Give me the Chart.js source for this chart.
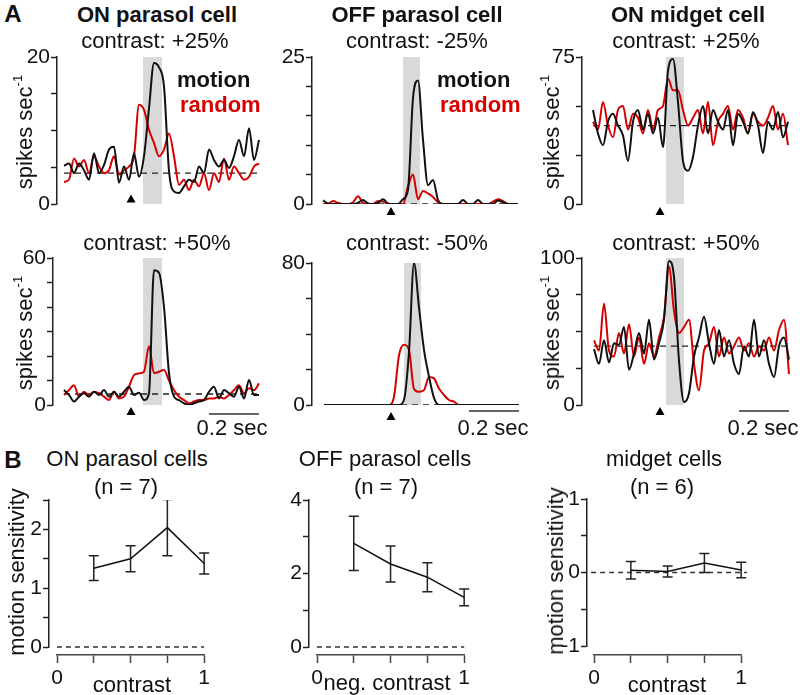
<!DOCTYPE html>
<html><head><meta charset="utf-8">
<script src="https://cdn.jsdelivr.net/npm/chart.js@4.4.0/dist/chart.umd.min.js"></script>
<style>
html,body{margin:0;padding:0;background:#fff;}
body{width:800px;height:695px;position:relative;overflow:hidden;font-family:"Liberation Sans",Arial,sans-serif;color:#111;}
canvas{position:absolute;}
.t{position:absolute;transform:translate(-50%,-50%);white-space:nowrap;line-height:1;font-size:22px;}
.b{font-weight:bold;}
.lg{position:absolute;transform:translate(0,-50%);white-space:nowrap;line-height:1;font-size:22px;font-weight:bold;}
.r{transform:translate(-50%,-50%) rotate(-90deg);}
sup{font-size:13px;vertical-align:0;position:relative;top:-0.8em;}
</style></head><body>
<script>
// ---------- DATA ----------
const time = [0,0.02,0.04,0.06,0.08,0.1,0.12,0.14,0.16,0.18,0.2,0.22,0.24,0.26,0.28,0.3,0.32,0.34,0.36,0.38,0.4,0.42,0.44,0.46,0.48,0.5,0.52,0.54,0.56,0.58,0.6,0.62,0.64,0.66,0.68,0.7,0.72,0.74,0.76,0.78];

const onParasol25Motion = [5.2,5.5,4.2,5.5,4.6,3.3,6.9,4.2,5.3,7.4,7.8,2.9,5.1,3.3,6.9,3.7,6.5,13,19.2,18.6,16,4.5,1.7,1.5,2.4,3.3,3.0,5.1,4.2,7.4,6.0,5.1,6.0,4.9,6.5,8.7,6.5,10.3,6.0,8.7];
const onParasol25Random = [3.0,3.3,6.2,5.1,6.0,4.2,6.5,5.1,4.2,4.6,6.5,4.0,4.6,5.1,6.5,13.5,12.8,10.1,8.3,6.5,7.4,9.6,6.5,2.6,3.3,1.9,3.3,2.4,4.2,1.9,4.2,3.0,6.2,3.3,5.1,4.2,3.3,3.7,5.1,5.5];
const offParasol25Motion = [0.6,0.1,0,0,0,0,0,0.2,0.7,0.1,0,0.2,0.8,0.1,0,0,0.8,2.4,18,21,10.9,3.2,4.1,0.7,0,0,0,0,0.7,0,0,0.7,0,0,0,0.6,0.3,0,0,0];
const offParasol25Random = [0,0,0.5,0.2,0,0,0.3,1.3,0.2,0,0,0.5,0.4,0,0,0,0,3,5,0.8,2.2,1.8,1.2,0.3,0,0,0,0,0,0,0,0,0,0,0.4,0.8,0.5,0,0,0];
const onMidget25Motion = [48,36,30,42,46,40,35,22,42,48,38,46,36,44,29,68,74,52,22,17,24,40,50,36,48,42,38,48,30,46,42,36,47,40,26,42,38,47,34,42];
const onMidget25Random = [42,38,52,40,34,48,50,38,46,44,36,48,38,48,50,64,58,58,48,40,44,48,36,52,30,42,46,50,38,48,44,36,46,42,40,44,50,38,46,30];
const onParasol50Motion = [6.1,4.1,1.4,3.4,4.8,3.4,5.4,4.1,6.1,3.4,5.4,3.4,5.4,7.5,4.1,5.0,2.0,4.8,55,54,40,13,3.4,2.0,0.7,0,0.7,1.4,2.0,5.4,7.5,2.7,6.1,4.8,3.4,7.5,2.7,10.2,4.1,4.1];
const onParasol50Random = [4.1,6.1,8.1,3.4,5.4,4.1,5.4,4.8,3.4,2.0,5.4,2.7,3.4,7.5,12.2,12.9,13.6,24,13,13.6,14.3,10,6.1,3.4,2.0,0.7,1.4,2.0,2.0,2.7,2.7,3.4,2.7,4.1,6.1,8.1,4.8,6.8,6.1,8.8];
const offParasol50Motion = [0,0,0,0,0,0,0,0,0,0,0,0,0,0,0,0,3,30,80,55,31,16,4,0,0,0,0,0,0,0,0,0,0,0,0,0,0,0,0,0];
const offParasol50Random = [0,0,0,0,0,0,0,0,0,0,0,0,0,0,4.7,28,34,31,9,7.4,8.4,15.8,15,9.3,5.6,2.8,1.9,0,0,0,0,0,0,0,0,0,0,0,0,0];
const onMidget50Motion = [38,28,44,29,42,41,53,24,35,49,35,58,31,42,58,98,87,30,2,8,33,46,60,42,28,51,33,44,28,21,40,33,58,33,44,28,19,40,46,31];
const onMidget50Random = [44,37,69,37,33,49,35,55,33,46,28,42,33,46,60,94,64,49,53,58,28,10,37,42,53,33,46,35,40,46,37,42,33,40,37,46,37,51,58,21];

// stimulus timing (s), baseline rate, y-axis ranges per panel A1..A6
const bandStart = [0.316,0.32,0.292,0.316,0.32,0.288];
const bandEnd   = [0.392,0.388,0.364,0.392,0.388,0.36];
const arrowTime = [0.268,0.272,0.268,0.268,0.268,0.264];
const baselineRate = [4.2,0,40,4.5,0,40];
const yMaxA  = [20,25,75,60,80,100];
const yStepA = [5,5,25,10,20,25];
const yLabelsA = [[0,20],[0,25],[0,75],[0,60],[0,80],[0,100]];
const scaleBarSec = 0.2;

// Panel B
const contrastLevels = [0.25,0.5,0.75,1];
const onParasolSens = [1.34,1.50,2.03,1.42];
const onParasolSem  = [0.21,0.22,0.48,0.18];
const offParasolSens = [2.82,2.26,1.90,1.35];
const offParasolSem  = [0.735,0.49,0.395,0.23];
const midgetSens = [0.03,0.015,0.13,0.035];
const midgetSem  = [0.118,0.075,0.13,0.105];
const yMinB = [0,0,-1], yMaxB = [2.5,4,1], yStepB=[0.5,1,0.5];
const yLabelsB = [[0,1,2],[0,2,4],[-1,0,1]];
const xTickLabelsB = [0,1];

// ---------- STYLE / LAYOUT ----------
const BLACK='#111', RED='#d60000', AXIS='#222', FONT='"Liberation Sans", Arial, sans-serif';
const PX_PER_SEC = 250, PX_PER_UNIT_B = 147;
Chart.defaults.font.family = FONT;
Chart.defaults.font.size = 21;
Chart.defaults.color = '#111';
Chart.defaults.animation = false;
Chart.defaults.plugins.legend.display = false;
Chart.defaults.plugins.tooltip.enabled = false;

// stimulus-onset arrowhead drawn through the chart's x scale
const stimArrowPlugin = {
  id:'stimArrow',
  afterDatasetsDraw(chart, args, opts){
    if(opts.time===undefined) return;
    const ctx=chart.ctx;
    const x=chart.scales.x.getPixelForValue(opts.time);
    const y=chart.chartArea.bottom+opts.offset;
    const w=opts.width, h=opts.height;
    ctx.save(); ctx.fillStyle='#000'; ctx.beginPath();
    ctx.moveTo(x,y-h/2); ctx.lineTo(x+w/2,y+h/2); ctx.lineTo(x-w/2,y+h/2);
    ctx.closePath(); ctx.fill(); ctx.restore();
  }
};

const layoutA = [
  {left:57, top:57, bottom:204, xmin:-0.028, arrowOff:-5.5},
  {left:312, top:57, bottom:204, xmin:-0.044, arrowOff:7},
  {left:582, top:57, bottom:204, xmin:-0.044, arrowOff:7},
  {left:53, top:258, bottom:405, xmin:-0.044, arrowOff:6, barOff:9},
  {left:312, top:263, bottom:405, xmin:-0.048, arrowOff:11, barOff:6},
  {left:582, top:258, bottom:405, xmin:-0.048, arrowOff:6, barOff:6}
];
const seriesA = [
  [onParasol25Motion,onParasol25Random],[offParasol25Motion,offParasol25Random],[onMidget25Motion,onMidget25Random],
  [onParasol50Motion,onParasol50Random],[offParasol50Motion,offParasol50Random],[onMidget50Motion,onMidget50Random]
];

function makeCanvas(left, top, w, h){
  const c=document.createElement('canvas');
  c.width=Math.round(w); c.height=Math.round(h);
  c.style.left=left+'px'; c.style.top=top+'px';
  c.style.width=Math.round(w)+'px'; c.style.height=Math.round(h)+'px';
  document.body.appendChild(c);
  return c;
}
function yAxis(min,max,step,labels,axw){
  return {
    min, max, position:'left',
    border:{display:true,color:AXIS,width:1.5},
    grid:{drawOnChartArea:false,drawTicks:true,tickLength:6,tickColor:AXIS,tickWidth:1.5},
    ticks:{stepSize:step,padding:1,autoSkip:false,color:'#111',font:{size:21},
      callback:(v)=>labels.some(l=>Math.abs(l-v)<1e-9)?String(v):''},
    afterFit:(s)=>{s.width=axw;}
  };
}
const pts=(xs,ys)=>xs.map((x,k)=>({x,y:ys[k]}));

function panelA(i){
  const L=layoutA[i], xmax=0.8;
  const areaW=Math.round((xmax-L.xmin)*PX_PER_SEC), areaH=L.bottom-L.top;
  const PADL=5,AXW=45,PADR=10,PADT=25,PADB=25;
  const c=makeCanvas(L.left-PADL-AXW, L.top-PADT, PADL+AXW+areaW+PADR, PADT+areaH+PADB);
  const ymax=yMaxA[i], pxToY=p=>p/areaH*ymax;
  const tEnd=time[time.length-1];
  const ds=[
    {data:pts(time,seriesA[i][0]),borderColor:BLACK,borderWidth:2,pointRadius:0,cubicInterpolationMode:'monotone',order:1},
    {data:pts(time,seriesA[i][1]),borderColor:RED,borderWidth:2,pointRadius:0,cubicInterpolationMode:'monotone',order:2},
    {data:[{x:time[0],y:baselineRate[i]},{x:tEnd,y:baselineRate[i]}],borderColor:'#222',borderWidth:1.3,borderDash:[6,5],pointRadius:0,order:3},
    {data:[{x:bandStart[i],y:ymax},{x:bandEnd[i],y:ymax}],fill:'origin',backgroundColor:'#d9d9d9',borderWidth:0,pointRadius:0,order:4}
  ];
  if(L.barOff!==undefined){
    const yb=-pxToY(L.barOff);
    ds.push({data:[{x:tEnd-scaleBarSec,y:yb},{x:tEnd,y:yb}],borderColor:'#333',borderWidth:1.5,pointRadius:0,clip:false,order:0});
  }
  new Chart(c,{type:'line',data:{datasets:ds},plugins:[stimArrowPlugin],options:{
    responsive:false,devicePixelRatio:1,
    layout:{padding:{left:PADL,right:PADR,top:PADT,bottom:PADB}},
    plugins:{stimArrow:{time:arrowTime[i],offset:L.arrowOff,width:9,height:8}},
    scales:{
      x:{type:'linear',display:false,min:L.xmin,max:xmax},
      y:yAxis(0,ymax,yStepA[i],yLabelsA[i],AXW)
    }
  }});
}

const layoutB=[
  {left:49, top:500, bottom:647, xmin:-0.054, x0:57, axisY:655, zero:[0,1]},
  {left:309, top:500, bottom:647, xmin:-0.054, x0:317, axisY:655, zero:[0,1]},
  {left:587, top:499, bottom:646, xmin:-0.048, x0:594, axisY:655, zero:[-0.02,1.04]}
];
const seriesB=[[onParasolSens,onParasolSem],[offParasolSens,offParasolSem],[midgetSens,midgetSem]];

function panelB(j){
  const L=layoutB[j], xmax=1.06;
  const areaW=Math.round((xmax-L.xmin)*PX_PER_UNIT_B), areaH=L.bottom-L.top;
  const PADL=5,AXW=40,PADR=10,PADT=20,PADB=20;
  const c=makeCanvas(L.left-PADL-AXW, L.top-PADT, PADL+AXW+areaW+PADR, PADT+areaH+PADB);
  const [m,s]=seriesB[j];
  const cap=5/PX_PER_UNIT_B;
  const eb=[];
  contrastLevels.forEach((x,k)=>{
    const hi=m[k]+s[k], lo=m[k]-s[k];
    eb.push({x:x-cap,y:hi},{x:x+cap,y:hi},{x:x,y:null},
            {x:x,y:hi},{x:x,y:lo},{x:x,y:null},
            {x:x-cap,y:lo},{x:x+cap,y:lo},{x:x,y:null});
  });
  const ds=[
    {data:pts(contrastLevels,m),borderColor:BLACK,borderWidth:1.5,pointRadius:0,order:1},
    {data:eb,borderColor:'#222',borderWidth:1.5,pointRadius:0,spanGaps:false,order:2},
    {data:[{x:L.zero[0],y:0},{x:L.zero[1],y:0}],borderColor:'#333',borderWidth:1.3,borderDash:[5,4],pointRadius:0,clip:false,order:3}
  ];
  new Chart(c,{type:'line',data:{datasets:ds},options:{
    responsive:false,devicePixelRatio:1,
    layout:{padding:{left:PADL,right:PADR,top:PADT,bottom:PADB}},
    scales:{
      x:{type:'linear',display:false,min:L.xmin,max:xmax},
      y:yAxis(yMinB[j],yMaxB[j],yStepB[j],yLabelsB[j],AXW)
    }
  }});
  // detached x axis (0..1)
  const XP=30, AH=10, XAH=30;
  const cx=makeCanvas(L.x0-XP, L.axisY-5-AH, XP+PX_PER_UNIT_B+XP, 5+AH+XAH+5);
  new Chart(cx,{type:'line',data:{datasets:[{data:[]}]},options:{
    responsive:false,devicePixelRatio:1,
    layout:{padding:{left:XP,right:XP,top:5,bottom:5}},
    scales:{
      x:{type:'linear',min:0,max:1,position:'bottom',
        border:{display:true,color:'#444',width:1.5},
        grid:{drawOnChartArea:false,drawTicks:true,tickLength:8,tickColor:'#444',tickWidth:1.5},
        ticks:{stepSize:0.25,autoSkip:false,maxRotation:0,padding:3,color:'#111',font:{size:21},
          callback:(v)=>xTickLabelsB.some(l=>Math.abs(l-v)<1e-9)?String(v):''},
        afterFit:(s)=>{s.height=XAH;}},
      y:{display:false,min:0,max:1}
    }
  }});
}

for(let i=0;i<6;i++) panelA(i);
for(let j=0;j<3;j++) panelB(j);

// ---------- TEXT ----------
function txt(html,x,y,cls,extra){
  const d=document.createElement('div');
  d.className=cls; d.innerHTML=html;
  d.style.left=x+'px'; d.style.top=y+'px';
  if(extra) Object.assign(d.style,extra);
  document.body.appendChild(d);
}
txt('A',13,14,'t b',{fontSize:'24px'});
txt('B',13,460,'t b',{fontSize:'24px'});
txt('ON parasol cell',157,15,'t b');
txt('OFF parasol cell',417,15,'t b');
txt('ON midget cell',688,15,'t b');
txt('contrast: +25%',155,41,'t');
txt('contrast: -25%',417,41,'t');
txt('contrast: +25%',686,41,'t');
txt('contrast: +50%',157,243,'t');
txt('contrast: -50%',417,243,'t');
txt('contrast: +50%',686,243,'t');
txt('motion',177,80,'lg');
txt('random',180,105,'lg',{color:RED});
txt('motion',437,80,'lg');
txt('random',440,105,'lg',{color:RED});
txt('spikes sec<sup>-1</sup>',25,132,'t r');
txt('spikes sec<sup>-1</sup>',552,132,'t r');
txt('spikes sec<sup>-1</sup>',25,333,'t r');
txt('spikes sec<sup>-1</sup>',552,333,'t r');
txt('0.2 sec',232,428,'t');
txt('0.2 sec',493,428,'t');
txt('0.2 sec',763,428,'t');
txt('ON parasol cells',127,459,'t');
txt('(n = 7)',126,487,'t');
txt('OFF parasol cells',385,459,'t');
txt('(n = 7)',386,487,'t');
txt('midget cells',664,459,'t');
txt('(n = 6)',662,487,'t');
txt('motion sensitivity',17,572,'t r');
txt('motion sensitivity',556,571,'t r');
txt('contrast',132,685,'t');
txt('neg. contrast',387,683,'t');
txt('contrast',667,685,'t');
</script>
</body></html>
